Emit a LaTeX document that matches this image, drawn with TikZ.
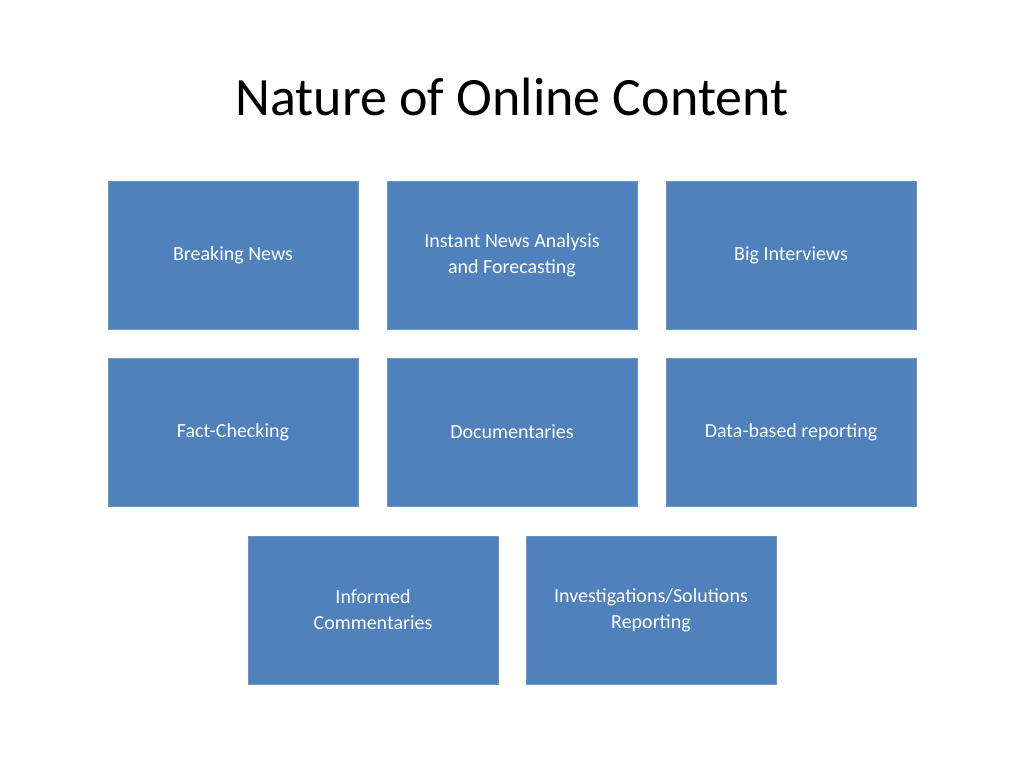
\documentclass[tikz,border=0pt]{standalone}
\usepackage{fontspec}
\setmainfont{Carlito}
\definecolor{boxfill}{HTML}{4F81BD}
\definecolor{boxline}{HTML}{6A94C8}
\begin{document}
\begin{tikzpicture}[x=1pt,y=-1pt,
  card/.style={draw=boxline,line width=1pt,fill=boxfill,minimum width=250pt,minimum height=148pt,inner sep=0pt,
    text=white,align=center,font=\fontsize{20}{26}\selectfont}]
\useasboundingbox (0,0) rectangle (1024,768);
\node[font=\fontsize{54}{60}\selectfont] (title) at (512,97) {Nature of Online Content};
\node[card] (a) at (233,255) {Breaking News};
\node[card] (b) at (512,255) {Instant News Analysis\\and Forecasting};
\node[card] (c) at (791,255) {Big Interviews};
\node[card] (d) at (233,432) {Fact-Checking};
\node[card] (e) at (512,432) {Documentaries};
\node[card] (f) at (791,432) {Data-based reporting};
\node[card] (g) at (373,610) {Informed\\Commentaries};
\node[card] (h) at (651,610) {Investigations/Solutions\\Reporting};
\end{tikzpicture}
\end{document}
